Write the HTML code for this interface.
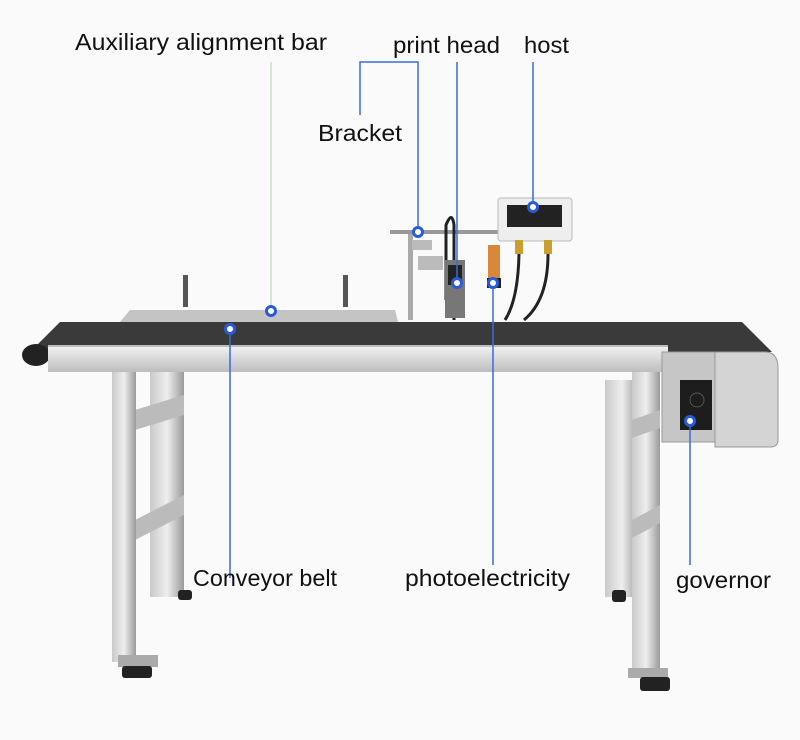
<!DOCTYPE html>
<html><head><meta charset="utf-8"><style>
body{margin:0;background:#fff;}
svg{display:block}
text{font-family:"Liberation Sans",sans-serif;font-size:23px;fill:#111}
</style></head><body>
<svg width="800" height="740" viewBox="0 0 800 740">
<defs>
<linearGradient id="leg" x1="0" x2="1"><stop offset="0" stop-color="#c9c9c9"/><stop offset=".5" stop-color="#eee"/><stop offset="1" stop-color="#9a9a9a"/></linearGradient>
<linearGradient id="rail" y1="0" y2="1" x1="0" x2="0"><stop offset="0" stop-color="#f4f4f4"/><stop offset="1" stop-color="#bdbdbd"/></linearGradient>
</defs>
<rect width="800" height="740" fill="#fafafa"/>
<rect x="150" y="372" width="34" height="225" fill="url(#leg)"/>
<polygon points="135,410 184,395 184,415 135,430" fill="#bbb"/>
<polygon points="135,520 184,495 184,515 135,540" fill="#bbb"/>
<rect x="112" y="372" width="24" height="290" fill="url(#leg)"/>
<rect x="118" y="655" width="40" height="12" fill="#aaa"/>
<rect x="122" y="666" width="30" height="12" rx="3" fill="#222"/>
<rect x="178" y="590" width="14" height="10" rx="3" fill="#222"/>
<rect x="605" y="380" width="34" height="217" fill="url(#leg)"/>
<rect x="632" y="372" width="28" height="300" fill="url(#leg)"/>
<polygon points="632,420 660,410 660,428 632,438" fill="#bbb"/>
<polygon points="632,520 660,505 660,523 632,538" fill="#bbb"/>
<rect x="628" y="668" width="40" height="10" fill="#aaa"/>
<rect x="640" y="677" width="30" height="14" rx="3" fill="#222"/>
<rect x="612" y="590" width="14" height="12" rx="3" fill="#222"/>
<rect x="183" y="275" width="5" height="32" fill="#555"/>
<rect x="343" y="275" width="5" height="32" fill="#555"/>
<polygon points="130,310 395,310 398,322 120,322" fill="#c4c4c4"/>
<polygon points="60,322 742,322 772,352 30,352" fill="#3a3a3a"/>
<ellipse cx="36" cy="355" rx="14" ry="11" fill="#222"/>
<rect x="48" y="345" width="620" height="27" fill="url(#rail)"/>
<line x1="48" y1="346" x2="668" y2="346" stroke="#888"/>
<rect x="662" y="352" width="56" height="90" fill="#c6c6c6" stroke="#999"/>
<rect x="680" y="380" width="32" height="50" fill="#1d1d1d"/>
<circle cx="697" cy="400" r="7" fill="none" stroke="#555"/>
<path d="M715,352 H765 Q778,352 778,368 V440 Q778,447 770,447 H715 Z" fill="#d4d4d4" stroke="#999"/>
<rect x="390" y="230" width="110" height="4" fill="#999"/>
<rect x="408" y="234" width="5" height="86" fill="#aaa"/>
<rect x="412" y="240" width="20" height="10" fill="#bbb"/>
<rect x="418" y="256" width="25" height="14" fill="#bbb"/>
<path d="M454,320 V225 Q452,210 446,225 V300" fill="none" stroke="#222" stroke-width="3"/>
<rect x="445" y="260" width="20" height="58" fill="#777"/>
<rect x="448" y="265" width="14" height="20" fill="#222"/>
<rect x="488" y="245" width="12" height="35" fill="#d88838"/>
<rect x="487" y="278" width="14" height="10" fill="#222"/>
<rect x="498" y="198" width="74" height="43" rx="3" fill="#eee" stroke="#bbb"/>
<rect x="507" y="205" width="55" height="22" fill="#222"/>
<rect x="515" y="240" width="8" height="14" fill="#c9a030"/>
<rect x="544" y="240" width="8" height="14" fill="#c9a030"/>
<path d="M519,254 Q518,300 505,320" fill="none" stroke="#222" stroke-width="3"/>
<path d="M548,254 Q548,300 524,320" fill="none" stroke="#222" stroke-width="3"/>
<g stroke="#3a6ad8" stroke-width="1.5" fill="none">
<line x1="271" y1="62" x2="271" y2="311" stroke="#c8e0c8"/>
<polyline points="360,115 360,62 418,62 418,232"/>
<line x1="457" y1="62" x2="457" y2="283"/>
<line x1="533" y1="62" x2="533" y2="207"/>
<line x1="230" y1="329" x2="230" y2="578"/>
<line x1="493" y1="283" x2="493" y2="565"/>
<line x1="690" y1="421" x2="690" y2="565"/>
</g>
<g fill="#fff" stroke="#2a5bd7" stroke-width="3">
<circle cx="418" cy="232" r="4.5"/><circle cx="457" cy="283" r="4.5"/><circle cx="493" cy="283" r="4.5"/>
<circle cx="533" cy="207" r="4.5"/><circle cx="271" cy="311" r="4.5"/><circle cx="230" cy="329" r="4.5"/><circle cx="690" cy="421" r="4.5"/>
</g>
<text x="75" y="50" textLength="252" lengthAdjust="spacingAndGlyphs">Auxiliary alignment bar</text>
<text x="393" y="53" textLength="107" lengthAdjust="spacingAndGlyphs">print head</text>
<text x="524" y="53" textLength="45" lengthAdjust="spacingAndGlyphs">host</text>
<text x="318" y="141" textLength="84" lengthAdjust="spacingAndGlyphs">Bracket</text>
<text x="193" y="586" textLength="144" lengthAdjust="spacingAndGlyphs">Conveyor belt</text>
<text x="405" y="586" textLength="165" lengthAdjust="spacingAndGlyphs">photoelectricity</text>
<text x="676" y="588" textLength="95" lengthAdjust="spacingAndGlyphs">governor</text>
</svg>
</body></html>
